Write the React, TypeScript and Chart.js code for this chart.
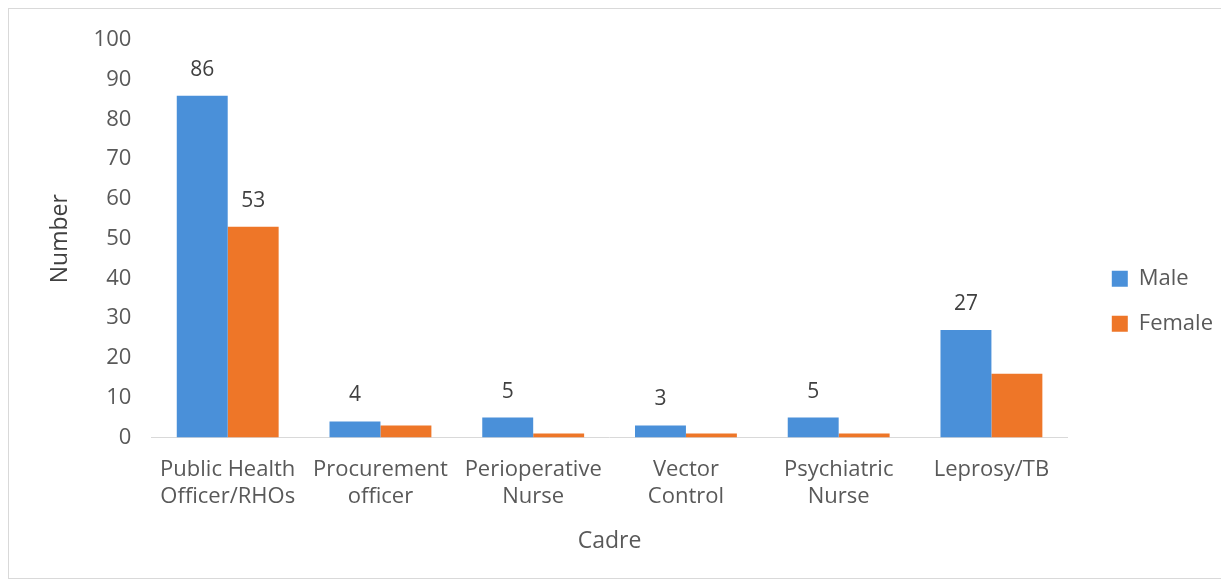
import React, { useEffect, useRef } from "react";
import { Chart, registerables } from "chart.js";

Chart.register(...registerables);

const categories: string[][] = [
  ["Public Health", "Officer/RHOs"],
  ["Procurement", "officer"],
  ["Perioperative", "Nurse"],
  ["Vector", "Control"],
  ["Psychiatric", "Nurse"],
  ["Leprosy/TB"],
];
const maleValues = [86, 4, 5, 3, 5, 27];
const femaleValues = [53, 3, 1, 1, 1, 16];
const maleLabelShown = [true, true, true, true, true, true];
const femaleLabelShown = [true, false, false, false, false, false];
const yTicks = [0, 10, 20, 30, 40, 50, 60, 70, 80, 90, 100];

const FONT = "'Open Sans', sans-serif";
const TEXT = "#595959";

const labelPlugin = {
  id: "barLabels",
  afterDatasetsDraw(chart: any) {
    const ctx = chart.ctx;
    const shown = [maleLabelShown, femaleLabelShown];
    ctx.save();
    ctx.font = `21px ${FONT}`;
    ctx.fillStyle = "#404040";
    ctx.textAlign = "center";
    ctx.textBaseline = "middle";
    chart.data.datasets.forEach((ds: any, i: number) => {
      const meta = chart.getDatasetMeta(i);
      meta.data.forEach((el: any, j: number) => {
        if (!shown[i][j]) return;
        ctx.fillText(String(ds.data[j]), el.x, el.y - 26);
      });
    });
    ctx.restore();
  },
};

export default function App() {
  const ref = useRef<HTMLCanvasElement | null>(null);
  useEffect(() => {
    if (!ref.current) return;
    const chart = new Chart(ref.current, {
      type: "bar",
      data: {
        labels: categories,
        datasets: [
          { label: "Male", data: maleValues, backgroundColor: "#4A90D9" },
          { label: "Female", data: femaleValues, backgroundColor: "#EE7628" },
        ],
      },
      plugins: [labelPlugin],
      options: {
        animation: false,
        responsive: true,
        maintainAspectRatio: false,
        layout: { padding: { top: 22, left: 38, right: 5, bottom: 23 } },
        datasets: { bar: { categoryPercentage: 0.667, barPercentage: 1 } },
        plugins: {
          tooltip: { enabled: false },
          legend: {
            position: "right",
            title: {
              display: true,
              text: " ",
              font: { family: FONT, size: 12, lineHeight: 1.2 },
              padding: { top: 1, bottom: 1 },
            },
            labels: {
              font: { family: FONT, size: 22 },
              color: TEXT,
              boxWidth: 16,
              boxHeight: 16,
              padding: 23,
            },
          },
        },
        scales: {
          x: {
            grid: { display: false, drawTicks: false },
            border: { display: true, color: "#d9d9d9" },
            ticks: {
              color: TEXT,
              font: { family: FONT, size: 22, lineHeight: 1.227 },
              padding: 19,
              maxRotation: 0,
              autoSkip: false,
            },
            title: {
              display: true,
              text: "Cadre",
              color: TEXT,
              font: { family: FONT, size: 23, lineHeight: 1.2 },
              padding: { top: -2, bottom: 0 },
            },
          },
          y: {
            min: 0,
            max: 100,
            afterBuildTicks: (axis: any) => {
              axis.ticks = yTicks.map((v) => ({ value: v }));
            },
            grid: { display: false, drawTicks: false },
            border: { display: false },
            ticks: {
              color: TEXT,
              font: { family: FONT, size: 22, lineHeight: 1.0 },
              padding: 20,
            },
            title: {
              display: true,
              text: "Number",
              color: "#404040",
              font: { family: FONT, size: 23, lineHeight: 1.2 },
              padding: { top: 0, bottom: -1 },
            },
          },
          gap: {
            type: "linear",
            position: "right",
            display: true,
            grid: { display: false, drawTicks: false },
            border: { display: false },
            ticks: { display: false },
            afterFit: (s: any) => {
              s.width = 21;
            },
          },
        },
      },
    });
    return () => chart.destroy();
  }, []);
  return (
    <div
      style={{
        width: 1219,
        height: 569,
        border: "1px solid #d9d9d9",
        position: "relative",
        background: "#fff",
      }}
    >
      <canvas ref={ref} />
    </div>
  );
}
